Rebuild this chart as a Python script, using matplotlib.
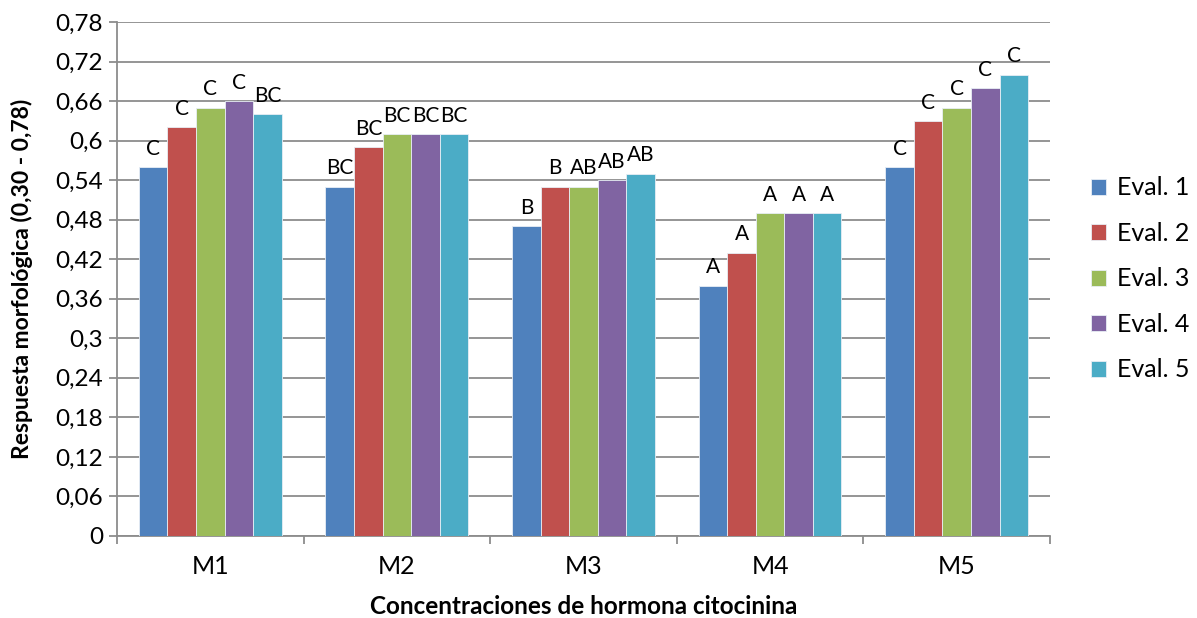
import matplotlib.pyplot as plt
import numpy as np

plt.rcParams['font.family'] = ['Lato', 'DejaVu Sans']

categorias = ["M1", "M2", "M3", "M4", "M5"]
series = ["Eval. 1", "Eval. 2", "Eval. 3", "Eval. 4", "Eval. 5"]
valores = [
    [0.56, 0.53, 0.47, 0.38, 0.56],
    [0.62, 0.59, 0.53, 0.43, 0.63],
    [0.65, 0.61, 0.53, 0.49, 0.65],
    [0.66, 0.61, 0.54, 0.49, 0.68],
    [0.64, 0.61, 0.55, 0.49, 0.70],
]
letras = [
    ["C", "BC", "B", "A", "C"],
    ["C", "BC", "B", "A", "C"],
    ["C", "BC", "AB", "A", "C"],
    ["C", "BC", "AB", "A", "C"],
    ["BC", "BC", "AB", "A", "C"],
]
colores = ["#4F81BD", "#C0504D", "#9BBB59", "#8064A2", "#4BACC6"]
yticks = np.round(np.arange(0, 0.79, 0.06), 2)

fig = plt.figure(figsize=(11.97, 6.18), dpi=100)
ax = fig.add_axes([0.0977, 0.1327, 0.7795, 0.8317])

x = np.arange(len(categorias))
ancho = 0.153
for i, (serie, vals, col) in enumerate(zip(series, valores, colores)):
    pos = x + (i - 2) * ancho
    ax.bar(pos, vals, width=ancho, color=col, edgecolor="#e8eef5",
           linewidth=0.6, label=serie, zorder=3)
    # letras de significancia sobre cada barra
    for px, v, t in zip(pos, vals, letras[i]):
        ax.annotate(t, (px, v), xytext=(0, 6), textcoords="offset points",
                    ha="center", va="bottom", fontsize=15)

ax.set_xlim(-0.5, 4.5)
ax.set_ylim(0, 0.78)
ax.set_yticks(yticks)
ax.set_yticklabels([f"{t:g}".replace(".", ",") for t in yticks], fontsize=17.5)
ax.yaxis.grid(True, color="#8c8c8c", linewidth=1.3, zorder=0)
ax.set_axisbelow(True)

ax.set_xticks(x)
ax.set_xticklabels(categorias, fontsize=18)
ax.set_xticks(np.arange(-0.5, 4.6, 1), minor=True)
ax.tick_params(axis="x", which="major", length=0, pad=14)
ax.tick_params(axis="x", which="minor", length=6, color="#8c8c8c", width=1.3)
ax.tick_params(axis="y", length=6, color="#8c8c8c", width=1.3, pad=4)

for s in ["top", "right"]:
    ax.spines[s].set_visible(False)
for s in ["left", "bottom"]:
    ax.spines[s].set_color("#8c8c8c")
    ax.spines[s].set_linewidth(1.3)

ax.set_xlabel("Concentraciones de hormona citocinina", fontsize=17.5,
              fontweight="bold", labelpad=12)
ax.set_ylabel("Respuesta morfológica (0,30 - 0,78)", fontsize=16.5,
              fontweight="bold")
ax.yaxis.set_label_coords(-0.09, 0.5)

ax.legend(loc="center left", bbox_to_anchor=(1.02, 0.5), frameon=False,
          fontsize=18, handlelength=0.6, handleheight=0.6, labelspacing=0.9,
          handletextpad=0.45)

fig.savefig("out.png", dpi=100)
